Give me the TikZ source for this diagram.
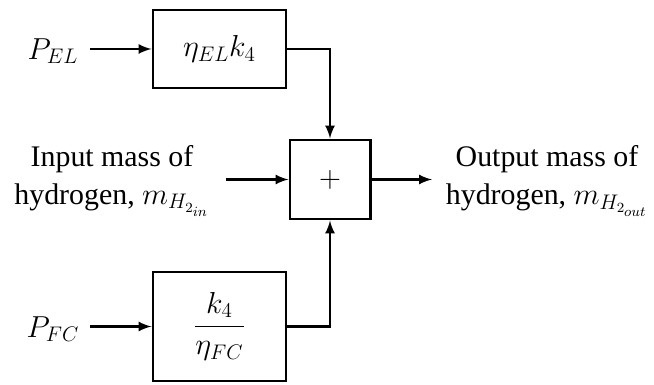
\documentclass[tikz,border=0pt]{standalone}
\usepackage{amsmath}
\usepackage{fontspec}
\setmainfont{Liberation Serif}
\usepackage{tikz}

\begin{document}
\begin{tikzpicture}[>=latex,
	blk/.style={draw,line width=1.7pt,minimum width=2.66cm,inner sep=0pt},
	flow/.style={->,line width=1.5pt}]
		\useasboundingbox (0,0) rectangle (13.08,7.68);
		\fontsize{17}{21.5}\selectfont
		% bloques
		\node[blk,minimum height=1.56cm] (el) at (4.39,6.70) {$\eta_{EL}k_4$};
		\node[blk,minimum height=2.18cm] (fc) at (4.39,1.15) {$\dfrac{k_4}{\eta_{FC}}$};
		\node[blk,minimum width=1.6cm,minimum height=1.58cm] (sum) at (6.60,4.09) {$+$};
		% entradas y salidas
		\node (pel) at (1.06,6.66) {$P_{EL}$};
		\node (pfc) at (1.06,1.10) {$P_{FC}$};
		\node[align=center] (in) at (2.24,4.06) {Input mass of\\hydrogen, $m_{H_{2_{in}}}$};
		\node[align=center] (out) at (10.94,4.06) {Output mass of\\hydrogen, $m_{H_{2_{out}}}$};
		\coordinate (pelend) at (1.80,6.70);
		\coordinate (pfcend) at (1.80,1.15);
		\coordinate (inend) at (4.52,4.09);
		\coordinate (outend) at (8.64,4.09);
		\draw[flow] (pelend) -- (el.west);
		\draw[flow] (pfcend) -- (fc.west);
		\draw[flow] (inend) -- (sum.west);
		\draw[flow] (sum.east) -- (outend);
		\draw[flow] (el.east) -| (sum.north);
		\draw[flow] (fc.east) -| (sum.south);
\end{tikzpicture}
\end{document}
